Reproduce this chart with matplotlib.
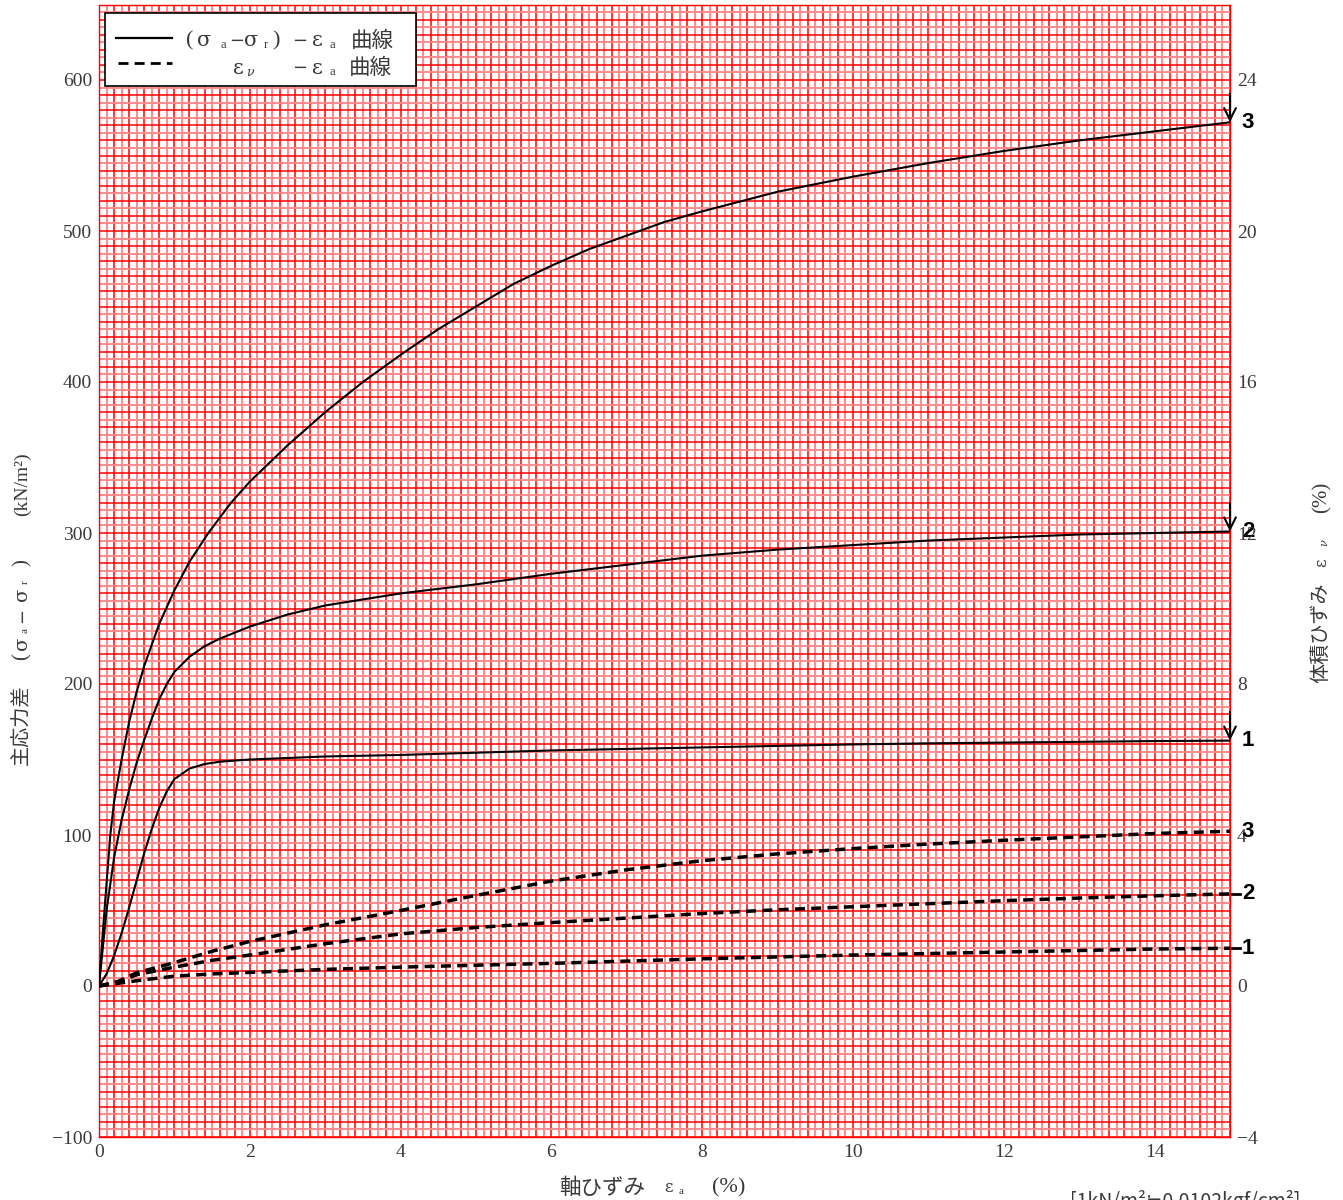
import numpy as np
import matplotlib
matplotlib.use("Agg")
import matplotlib.pyplot as plt
from matplotlib.patches import Rectangle

W, H = 1343, 1200

# ---- data: principal stress difference (kN/m2) vs axial strain (%) ----
ea_q3 = [0, 0.05, 0.1, 0.15, 0.2, 0.3, 0.4, 0.5, 0.6, 0.8, 1.0, 1.2, 1.45, 1.75, 2.0,
         2.5, 3.0, 3.5, 4.0, 4.5, 5.0, 5.5, 6.0, 6.5, 7.0, 7.5, 8.0, 9.0, 10.0, 11.0,
         12.0, 13.0, 14.0, 15.0]
q3 = [0, 35, 68, 100, 122, 150, 175, 195, 212, 240, 262, 281, 300, 320, 334,
      358, 380, 400, 418, 435, 450, 465, 477, 488, 497, 506, 513, 526, 536, 545,
      553, 560, 566, 572]

ea_q2 = [0, 0.05, 0.1, 0.2, 0.3, 0.4, 0.5, 0.6, 0.7, 0.8, 0.9, 1.0, 1.2, 1.4, 1.6, 1.8,
         2.0, 2.5, 3.0, 3.5, 4.0, 5.0, 6.0, 7.0, 8.0, 9.0, 10.0, 11.0, 12.0, 13.0, 14.0, 15.0]
q2 = [0, 25, 50, 85, 110, 130, 148, 163, 177, 190, 200, 208, 218, 225, 230, 234,
      238, 246, 252, 256, 260, 266, 273, 279, 285, 289, 292, 295, 297, 299, 300, 301]

ea_q1 = [0, 0.1, 0.2, 0.3, 0.4, 0.5, 0.6, 0.7, 0.8, 0.9, 1.0, 1.2, 1.4, 1.6, 1.8, 2.0,
         2.5, 3.0, 3.5, 4.0, 5.0, 6.0, 7.0, 8.0, 9.0, 10.0, 11.0, 12.0, 13.0, 14.0, 15.0]
q1 = [0, 8, 20, 35, 52, 70, 88, 104, 118, 129, 137, 144, 147, 148.5, 149.3, 150,
      151, 152, 152.5, 153, 154.5, 156, 157, 158, 159, 160, 160.7, 161.2, 161.7, 162.2, 162.5]

# ---- data: volumetric strain (%) vs axial strain (%) ----
ea_v = [0, 0.25, 0.5, 1, 1.5, 2, 3, 4, 5, 6, 7, 8, 9, 10, 11, 12, 13, 14, 15]
ev3 = [0, 0.12, 0.35, 0.62, 0.92, 1.18, 1.62, 2.0, 2.4, 2.78, 3.08, 3.32, 3.5, 3.64, 3.76, 3.86, 3.95, 4.04, 4.1]
ev2 = [0, 0.1, 0.3, 0.5, 0.68, 0.82, 1.12, 1.38, 1.55, 1.68, 1.8, 1.92, 2.02, 2.1, 2.18, 2.26, 2.33, 2.39, 2.44]
ev1 = [0, 0.07, 0.14, 0.26, 0.32, 0.36, 0.44, 0.5, 0.55, 0.6, 0.66, 0.72, 0.77, 0.82, 0.86, 0.9, 0.94, 0.98, 1.0]

solid_curves = [(ea_q1, q1, "1"), (ea_q2, q2, "2"), (ea_q3, q3, "3")]
dashed_curves = [(ea_v, ev1, "1"), (ea_v, ev2, "2"), (ea_v, ev3, "3")]

x_ticks = list(range(0, 15, 2))
q_ticks = list(range(-100, 601, 100))
v_ticks = list(range(-4, 25, 4))

SERIF = "Liberation Serif"
JP = ["Noto Sans CJK JP", "DejaVu Sans"]
GREEK = ["DejaVu Serif"]
TXT = "#3a3a3a"

fig = plt.figure(figsize=(W / 100, H / 100), dpi=100)
ax = fig.add_axes([99 / W, (H - 1137) / H, (1230 - 99) / W, (1137 - 4.5) / H])
ax.set_xlim(0, 15)
ax.set_ylim(-100, 650)

# graph-paper grid
for i, xv in enumerate(np.arange(0, 15.001, 0.1)):
    strong = i % 2 == 0
    ax.axvline(xv, color="#ff0000" if strong else "#ff8c8c", lw=1.1 if strong else 1.4, zorder=0)
for i, yv in enumerate(np.arange(-100, 650.001, 5)):
    strong = i % 2 == 0
    ax.axhline(yv, color="#ff0000" if strong else "#ff8c8c", lw=1.1 if strong else 1.4, zorder=0)

for sp in ax.spines.values():
    sp.set_color("#ff0000")
    sp.set_linewidth(1.0)

ax.set_xticks(x_ticks)
ax.set_yticks(q_ticks)
ax.tick_params(length=0, pad=5, labelsize=14, labelcolor=TXT)
for lab in ax.get_xticklabels() + ax.get_yticklabels():
    lab.set_family(SERIF)

ax2 = ax.twinx()
ax2.set_ylim(-4, 26)
ax2.set_yticks(v_ticks)
ax2.tick_params(length=0, pad=5, labelsize=14, labelcolor=TXT)
for lab in ax2.get_yticklabels():
    lab.set_family(SERIF)
for sp in ax2.spines.values():
    sp.set_visible(False)

num_font = dict(family=["Liberation Sans Narrow", "Liberation Sans"], fontweight="bold",
                fontsize=16, color="black", ha="center", va="center")

# stress-strain curves with end arrows
for xs, ys, name in solid_curves:
    ax.plot(xs, ys, color="black", lw=1.5, zorder=3, solid_capstyle="round",
            solid_joinstyle="round")
    ax.annotate("", xy=(xs[-1], ys[-1]), xytext=(xs[-1], ys[-1] + 19),
                arrowprops=dict(arrowstyle="->,head_length=0.85,head_width=0.42",
                                lw=1.5, color="black", shrinkA=0, shrinkB=0),
                annotation_clip=False, zorder=4)
    ax.text(15.24, ys[-1], name, clip_on=False, **num_font)

# volumetric strain curves
for xs, ys, name in dashed_curves:
    ax2.plot(xs, ys, color="black", lw=2.5, dashes=(2.9, 1.8), zorder=3)
    if name != "3":
        ax2.plot([15.02, 15.13], [ys[-1], ys[-1]], color="black", lw=2.0, clip_on=False)
    ax2.text(15.24, ys[-1], name, clip_on=False, **num_font)


def ftext(px, py, s, size=14, fam=JP, **kw):
    kw.setdefault("ha", "center")
    kw.setdefault("va", "center")
    kw.setdefault("color", TXT)
    fig.text(px / W, 1 - py / H, s, fontsize=size, family=fam, **kw)


# legend box
fig.patches.append(Rectangle((105 / W, 1 - 86 / H), (416 - 105) / W, (86 - 13) / H,
                             transform=fig.transFigure, facecolor="white",
                             edgecolor="black", lw=1.2, zorder=5))
fig.lines.append(plt.Line2D([116 / W, 172 / W], [1 - 38 / H, 1 - 38 / H],
                            transform=fig.transFigure, color="black", lw=1.6, zorder=6))
fig.lines.append(plt.Line2D([118 / W, 172 / W], [1 - 63 / H, 1 - 63 / H],
                            transform=fig.transFigure, color="black", lw=2.0,
                            dashes=(3.6, 2.2), zorder=6))
r1, r2 = 41, 68
ftext(190, r1, "(", 16, [SERIF], zorder=7)
ftext(204, r1, "σ", 15, GREEK, zorder=7)
ftext(223, r1 + 4, "a", 9, [SERIF], zorder=7)
ftext(237, r1, "−", 13, GREEK, zorder=7)
ftext(251, r1, "σ", 15, GREEK, zorder=7)
ftext(266, r1 + 4, "r", 9, [SERIF], zorder=7)
ftext(276, r1, ")", 16, [SERIF], zorder=7)
ftext(300, r1, "−", 13, GREEK, zorder=7)
ftext(317, r1, "ε", 15, GREEK, zorder=7)
ftext(332, r1 + 4, "a", 9, [SERIF], zorder=7)
ftext(372, r1, "曲線", 15.5, zorder=7)
ftext(238, r2, "ε", 15, GREEK, zorder=7)
ftext(250, r2 + 4, "ν", 9, GREEK, zorder=7, style="italic")
ftext(300, r2, "−", 13, GREEK, zorder=7)
ftext(317, r2, "ε", 15, GREEK, zorder=7)
ftext(332, r2 + 4, "a", 9, [SERIF], zorder=7)
ftext(370, r2, "曲線", 15.5, zorder=7)

# left axis title (vertical)
lx = 22
ftext(lx, 725, "主応力差", 14.5, rotation=90)
ftext(lx, 657, "(", 15, [SERIF], rotation=90)
ftext(lx, 643, "σ", 14, GREEK, rotation=90)
ftext(lx + 3, 631, "a", 8, [SERIF], rotation=90)
ftext(lx, 615, "−", 13, GREEK, rotation=90)
ftext(lx, 594, "σ", 14, GREEK, rotation=90)
ftext(lx + 3, 582, "r", 8, [SERIF], rotation=90)
ftext(lx, 563, ")", 15, [SERIF], rotation=90)
ftext(lx, 484, "(kN/m²)", 14, [SERIF], rotation=90)

# right axis title (vertical)
rx = 1322
ftext(rx, 633, "体積ひずみ", 14.5, rotation=90)
ftext(rx, 563, "ε", 12, GREEK, rotation=90)
ftext(rx + 2, 543, "ν", 8, GREEK, rotation=90, style="italic")
ftext(rx, 497, "(%)", 15, [SERIF], rotation=90)

# bottom axis title
bx = 1188
ftext(602, bx, "軸ひずみ", 15.5)
ftext(669, bx, "ε", 12, GREEK)
ftext(681, bx + 4, "a", 8, [SERIF])
ftext(729, bx, "(%)", 16, [SERIF])

# unit conversion note
ftext(1185, 1190, "[1kN/m²≒0.0102kgf/cm²]", 14, JP, va="top")

fig.savefig("out.png", dpi=100)
